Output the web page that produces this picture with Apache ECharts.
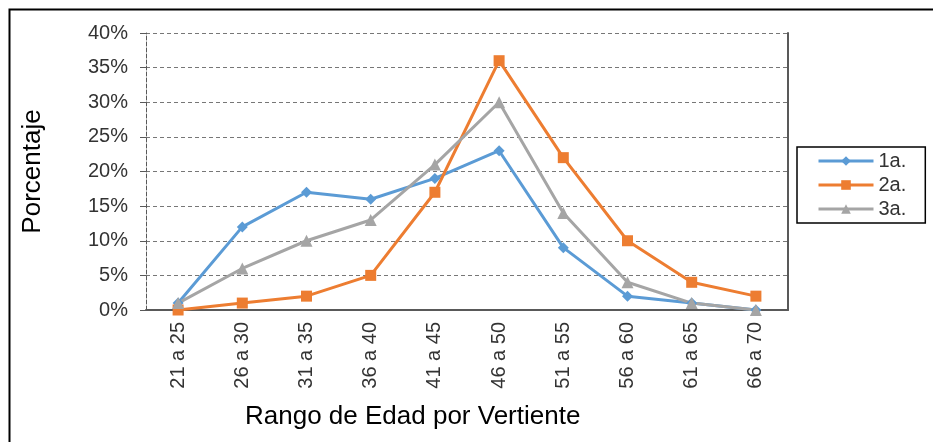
<!DOCTYPE html>
<html>
<head>
<meta charset="utf-8">
<script src="https://cdn.jsdelivr.net/npm/echarts@6/dist/echarts.min.js"></script>
<style>
  html, body { margin: 0; padding: 0; background: #fff; }
  #chart { width: 933px; height: 442px; }
</style>
</head>
<body>
<div id="chart"></div>
<script>
// rangos de edad
const categories = ['21 a 25', '26 a 30', '31 a 35', '36 a 40', '41 a 45',
                    '46 a 50', '51 a 55', '56 a 60', '61 a 65', '66 a 70'];
// porcentajes por vertiente
const serie1a = [1, 12, 17, 16, 19, 23, 9, 2, 1, 0];
const serie2a = [0, 1, 2, 5, 17, 36, 22, 10, 4, 2];
const serie3a = [1, 6, 10, 13, 21, 30, 14, 4, 1, 0];
const yTicks = [0, 5, 10, 15, 20, 25, 30, 35, 40];

const font = 'Liberation Sans, Arial, sans-serif';
const chart = echarts.init(document.getElementById('chart'), null, { renderer: 'canvas' });

const mkSeries = (name, data, color, symbol, size) => ({
  name, type: 'line', data, xAxisIndex: 0, yAxisIndex: 0,
  symbol, symbolSize: size,
  lineStyle: { color, width: 3 },
  itemStyle: { color },
  emphasis: { disabled: true },
  z: 3
});

chart.setOption({
  animation: false,
  textStyle: { fontFamily: font },
  grid: { left: 146, right: 145, top: 33, bottom: 132, containLabel: false },
  legend: {
    orient: 'vertical',
    left: 797, top: 147,
    padding: [4, 19, 4, 20],
    itemWidth: 55, itemHeight: 12, itemGap: 4,
    borderColor: '#000', borderWidth: 1.5,
    lineStyle: { width: 3 },
    textStyle: { fontSize: 20, color: '#333', fontFamily: font },
    data: ['1a.', '2a.', '3a.']
  },
  xAxis: [{
    type: 'category', data: categories, boundaryGap: true,
    axisLine: { lineStyle: { color: '#595959', type: 'dashed', width: 1 } },
    axisTick: { show: false },
    axisLabel: { rotate: 90, fontSize: 20, color: '#333', margin: 12, fontFamily: font }
  }, {
    type: 'category', data: categories, position: 'top',
    axisLine: { lineStyle: { color: '#595959', width: 2 } },
    axisTick: { show: false }, axisLabel: { show: false }
  }],
  yAxis: [{
    type: 'value', min: yTicks[0], max: yTicks[yTicks.length - 1], interval: 5,
    axisLine: { show: true, lineStyle: { color: '#595959', type: 'dashed', width: 1 } },
    axisTick: { show: true, length: 6, lineStyle: { color: '#595959' } },
    axisLabel: { formatter: '{value}%', fontSize: 20, color: '#333', margin: 18, fontFamily: font },
    splitLine: { lineStyle: { color: '#777', type: [4, 3], width: 1 } },
    name: 'Porcentaje', nameLocation: 'middle', nameGap: 100, nameRotate: 90,
    nameTextStyle: { fontSize: 26, color: '#000', fontFamily: font }
  }, {
    type: 'value', min: 0, max: 40, position: 'right',
    axisLine: { show: true, lineStyle: { color: '#595959', width: 2 } },
    axisTick: { show: false }, axisLabel: { show: false }, splitLine: { show: false }
  }],
  series: [
    mkSeries('1a.', serie1a, '#5B9BD5', 'diamond', 11),
    mkSeries('2a.', serie2a, '#ED7D31', 'rect', 11),
    mkSeries('3a.', serie3a, '#A5A5A5', 'triangle', 12)
  ],
  graphic: [{
    type: 'rect', left: 7, top: 7, shape: { width: 940, height: 450 },
    style: { fill: 'none', stroke: '#000', lineWidth: 2 }, silent: true
  }, {
    type: 'text', left: 245, top: 404,
    style: { text: 'Rango de Edad por Vertiente', font: '26px ' + font, fill: '#000' }
  }]
});
</script>
</body>
</html>
